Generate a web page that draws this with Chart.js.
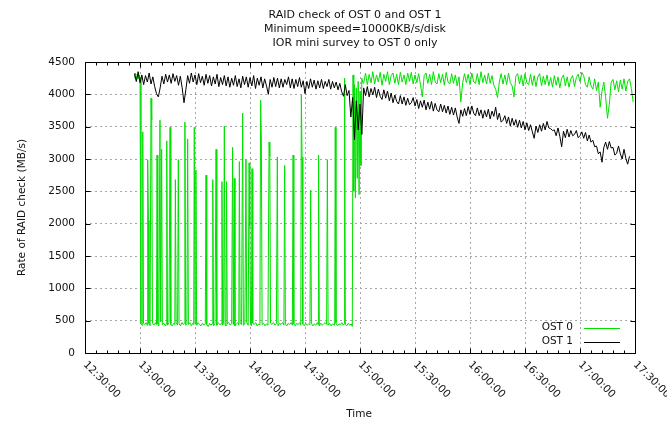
<!DOCTYPE html>
<html>
<head>
<meta charset="utf-8">
<script src="https://cdn.jsdelivr.net/npm/chart.js@4.4.1/dist/chart.umd.min.js"></script>
<style>
  html, body { margin: 0; padding: 0; background: #fff; }
  #chart { display: block; }
</style>
</head>
<body>
<canvas id="chart" width="667" height="421"></canvas>
<script>
const titleLines = ['RAID check of OST 0 and OST 1', 'Minimum speed=10000KB/s/disk', 'IOR mini survey to OST 0 only'];
const xAxisTitle = 'Time';
const yAxisTitle = 'Rate of RAID check (MB/s)';
const seriesNames = ['OST 0', 'OST 1'];

// x ticks in minutes after midnight (12:30 .. 17:30), y ticks in MB/s
const xTickMinutes = [750, 780, 810, 840, 870, 900, 930, 960, 990, 1020, 1050];
const yTicks = [0, 500, 1000, 1500, 2000, 2500, 3000, 3500, 4000, 4500];

// OST 0 while the IOR survey was running (minutes after midnight / MB/s)
const ost0SurveyMinutes = [
  777, 777.5, 778, 778.5, 779, 779.5, 780, 780.5, 781.2, 781.5,
  781.9, 782.6, 783.3, 783.9, 784.2, 784.6, 784.9, 785.5, 786, 786.4,
  786.8, 787.6, 788.4, 789, 789.3, 789.7, 790.3, 790.9, 791.3, 791.8,
  792.2, 793, 793.8, 794.3, 794.6, 795, 795.8, 796.4, 796.8, 797.6,
  798.4, 799, 799.3, 799.7, 800.5, 800.9, 801.3, 802.1, 802.9, 803.6,
  804.2, 804.5, 804.9, 805.6, 806, 806.4, 807.2, 808, 808.8, 809.3,
  809.6, 810, 810.5, 810.9, 811.7, 812.5, 813.3, 814.1, 814.9, 815.6,
  816, 816.4, 817.2, 818, 818.8, 819.3, 819.7, 820.1, 820.9, 821.5,
  821.9, 822.7, 823.5, 824.3, 824.7, 825.1, 825.6, 826, 826.4, 826.9,
  827.2, 827.6, 828.4, 829.2, 830, 830.5, 830.9, 831.4, 831.8, 832.6,
  833.4, 833.9, 834.2, 834.6, 835.4, 836, 836.4, 837.2, 837.8, 838.2,
  839, 839.5, 839.9, 840.3, 840.8, 841.1, 841.5, 842.3, 843.1, 843.9,
  844.7, 845.4, 845.8, 846.2, 846.6, 847.4, 848.2, 849, 849.8, 850.4,
  850.8, 851.2, 852, 852.8, 853.6, 854.4, 854.9, 855.3, 856.1, 856.9,
  857.7, 858.5, 858.9, 859.3, 860.1, 860.9, 861.7, 862.5, 863.1, 863.5,
  863.9, 864.7, 865.5, 866.3, 867.1, 867.7, 868, 868.4, 868.8, 869.6,
  870.4, 871.2, 872, 872.7, 873.1, 873.5, 874.3, 875.1, 875.9, 876.7,
  877.1, 877.4, 877.8, 878.6, 879.4, 880.2, 881, 881.8, 882.2, 882.6,
  883.4, 884.2, 885, 885.8, 886.2, 886.5, 886.9, 887.7, 888.5, 889.3,
  890.1, 890.9, 891.3, 891.6, 892, 892.8, 893.6, 894.4, 895.2, 895.8,
  896.2, 896.6, 897, 897.5, 898, 898.5, 899, 899.5, 900, 900.5,
  901, 901.5
];
const ost0SurveyRates = [
  4250, 4330, 4200, 4310, 4240, 4300, 4260, 450, 430, 3420,
  460, 440, 470, 430, 2990, 2050, 450, 420, 3940, 3600,
  460, 430, 470, 440, 3060, 450, 420, 3600, 480, 3150,
  440, 460, 420, 450, 3280, 430, 470, 3490, 440, 420,
  460, 440, 2680, 470, 430, 2990, 450, 420, 470, 440,
  460, 3570, 430, 450, 3310, 440, 470, 420, 460, 440,
  3490, 450, 2830, 430, 470, 440, 420, 460, 430, 450,
  2750, 440, 410, 460, 430, 450, 2680, 420, 460, 3150,
  430, 470, 440, 450, 2650, 430, 460, 3510, 440, 420,
  2650, 450, 470, 430, 460, 3180, 440, 2700, 420, 450,
  470, 430, 2960, 460, 440, 3710, 430, 450, 2990, 470,
  430, 2940, 1960, 450, 420, 2850, 460, 440, 470, 420,
  450, 430, 3910, 3290, 440, 460, 420, 450, 430, 3260,
  3040, 460, 440, 470, 430, 450, 3030, 420, 460, 440,
  470, 430, 2900, 450, 420, 460, 440, 470, 430, 3060,
  450, 420, 460, 440, 470, 430, 3990, 3030, 450, 420,
  460, 430, 450, 440, 2520, 460, 420, 450, 430, 470,
  440, 3060, 420, 460, 430, 450, 470, 440, 2990, 430,
  460, 420, 450, 440, 430, 3490, 460, 420, 450, 440,
  470, 430, 450, 4250, 440, 420, 460, 430, 450, 410,
  4300, 2500, 4150, 2400, 4100, 2700, 4200, 2450, 4050, 2900,
  4250, 4180
];

// OST 0 after the survey, one reading per minute from 15:02
const ost0AfterStart = 902;
const ost0AfterRates = [
  4170, 4330, 4150, 4310, 4180, 4350, 4160, 4300, 4190, 4340,
  4140, 4310, 4200, 4350, 4150, 4290, 4330, 4170, 4310, 4150,
  4340, 4190, 4300, 4150, 4330, 4200, 4340, 4160, 4300, 4180,
  4320, 4150, 3960, 4290, 4330, 4170, 4310, 4150, 4350, 4190,
  4160, 4320, 4180, 4310, 4140, 4340, 4190, 4160, 4320, 4170,
  4300, 4130, 4270, 3880, 4180, 4320, 4180, 4310, 4150, 4330,
  4190, 4170, 4320, 4150, 4350, 4180, 4300, 4160, 4330, 4170,
  4290, 4140, 4080, 3950, 4190, 4320, 4160, 4300, 4150, 4330,
  4180, 4130, 3960, 4280, 4320, 4160, 4300, 4130, 4320, 4180,
  4150, 4310, 4140, 4290, 4120, 4270, 4320, 4130, 4280, 4150,
  4300, 4130, 4260, 4110, 4290, 4140, 4270, 4100, 4250, 4300,
  4130, 4270, 4110, 4240, 4290, 4120, 4260, 4310, 4190, 4340,
  4290, 4150, 4110, 4270, 4130, 4080, 4240, 4060, 4190, 3800,
  4050, 4190, 3950, 3630, 3850, 4190, 4230, 4070, 4210, 4040,
  4220, 4080, 4240, 4050, 4200, 4240, 4090, 3880
];

// OST 1, one reading per minute from 12:57
const ost1Start = 777;
const ost1Rates = [
  4320, 4200, 4350, 4180, 4300, 4150, 4290, 4190, 4330, 4160,
  4270, 4120, 4010, 3960, 4100, 4280, 4160, 4310, 4190, 4300,
  4170, 4320, 4200, 4290, 4140, 4280, 4100, 3870, 4070, 4290,
  4170, 4330, 4190, 4300, 4150, 4320, 4180, 4280, 4140, 4310,
  4170, 4290, 4130, 4270, 4160, 4310, 4120, 4260, 4150, 4290,
  4130, 4270, 4110, 4250, 4140, 4290, 4120, 4240, 4100, 4280,
  4150, 4270, 4110, 4260, 4130, 4290, 4090, 4250, 4140, 4270,
  4100, 4240, 4130, 4000, 4230, 4110, 4260, 4120, 4250, 4100,
  4240, 4110, 4230, 4150, 4270, 4100, 4240, 4090, 4230, 4120,
  4260, 4110, 4210, 4010, 4200, 4090, 4240, 4110, 4220, 4080,
  4210, 4100, 4230, 4090, 4200, 4120, 4230, 4080, 4200, 4100,
  4190, 4070, 4170, 4040, 3970, 4150, 3980, 4060, 3650, 3950,
  3300, 3900, 3450, 3850, 3380, 4100, 3980, 4120, 3960, 4090,
  3990, 4110, 3950, 4080, 3970, 3920, 4070, 3940, 4050, 3900,
  4020, 3870, 3990, 3890, 3850, 3980, 3850, 3960, 3830, 3940,
  3840, 3870, 3950, 3820, 3920, 3780, 3900, 3800, 3910, 3760,
  3880, 3770, 3890, 3740, 3860, 3760, 3730, 3850, 3730, 3830,
  3710, 3820, 3690, 3800, 3680, 3790, 3650, 3550, 3760, 3660,
  3780, 3670, 3810, 3690, 3820, 3710, 3670, 3790, 3670, 3760,
  3630, 3750, 3650, 3770, 3620, 3740, 3660, 3800, 3610, 3710,
  3570, 3600, 3670, 3550, 3650, 3510, 3630, 3520, 3610, 3490,
  3600, 3480, 3580, 3450, 3560, 3440, 3530, 3420, 3320, 3510,
  3410, 3530, 3430, 3550, 3450, 3580, 3480, 3470, 3440, 3450,
  3360, 3480, 3350, 3190, 3430, 3330, 3460, 3340, 3440, 3360,
  3380, 3440, 3330, 3360, 3420, 3320, 3410, 3280, 3370, 3260,
  3290, 3190, 3200, 3080, 3110, 2950, 3180, 3260, 3150, 3270,
  3170, 3180, 3060, 3090, 3200, 3080, 3000, 3150, 3010, 2920,
  3040
];

const FONT = '"DejaVu Sans", sans-serif';
const GREEN = '#00e000';

function clockLabel(minutes) {
    const h = Math.floor(minutes / 60);
    const m = minutes % 60;
    return h + ':' + String(m).padStart(2, '0') + ':00';
}

const ost0Points = ost0SurveyMinutes.map((t, i) => ({ x: t, y: ost0SurveyRates[i] }))
    .concat(ost0AfterRates.map((v, i) => ({ x: ost0AfterStart + i, y: v })));
const ost1Points = ost1Rates.map((v, i) => ({ x: ost1Start + i, y: v }));

// gnuplot style frame: box, inward ticks, rotated time labels, titles and key
const gnuplotFrame = {
    id: 'gnuplotFrame',
    afterDatasetsDraw(chart) {
        const { ctx, chartArea: a, scales: { x, y } } = chart;
        const left = Math.round(a.left) + 0.5;
        const right = Math.round(a.right) + 0.5;
        const top = Math.round(a.top) + 0.5;
        const bottom = Math.round(a.bottom) + 0.5;

        ctx.save();
        ctx.strokeStyle = '#000';
        ctx.lineWidth = 1;
        ctx.beginPath();
        ctx.rect(left, top, right - left, bottom - top);

        // major and minor ticks on x (bottom + mirrored top)
        for (let m = xTickMinutes[0]; m <= xTickMinutes[xTickMinutes.length - 1]; m += 6) {
            const px = Math.round(x.getPixelForValue(m)) + 0.5;
            const len = (m % 30 === 0) ? 5 : 3;
            ctx.moveTo(px, bottom); ctx.lineTo(px, bottom - len);
            ctx.moveTo(px, top); ctx.lineTo(px, top + len);
        }
        yTicks.forEach(v => {
            const py = Math.round(y.getPixelForValue(v)) + 0.5;
            ctx.moveTo(left, py); ctx.lineTo(left + 5, py);
            ctx.moveTo(right, py); ctx.lineTo(right - 5, py);
        });
        ctx.stroke();

        ctx.fillStyle = '#111';
        ctx.font = '10.5px ' + FONT;

        // y tick labels
        ctx.textAlign = 'right';
        ctx.textBaseline = 'middle';
        yTicks.forEach(v => {
            ctx.fillText(String(v), 75, y.getPixelForValue(v));
        });

        // x tick labels, rotated down to the right
        xTickMinutes.forEach(m => {
            const px = x.getPixelForValue(m);
            ctx.save();
            ctx.translate(px, a.bottom + 10);
            ctx.rotate(Math.PI / 4);
            ctx.textAlign = 'left';
            ctx.textBaseline = 'middle';
            ctx.fillText(clockLabel(m), 0, 0);
            ctx.restore();
        });

        // axis titles
        ctx.textAlign = 'center';
        ctx.fillText(xAxisTitle, 359, 414);
        ctx.save();
        ctx.translate(22, (a.top + a.bottom) / 2);
        ctx.rotate(-Math.PI / 2);
        ctx.fillText(yAxisTitle, 0, 0);
        ctx.restore();

        // title block
        ctx.font = '11px ' + FONT;
        titleLines.forEach((line, i) => {
            ctx.fillText(line, 355, 15 + i * 14);
        });

        // key, bottom right inside the plot
        ctx.font = '10.5px ' + FONT;
        const keyColors = [GREEN, '#000'];
        seriesNames.forEach((name, i) => {
            const ky = 327.5 + i * 14;
            ctx.textAlign = 'right';
            ctx.fillStyle = '#111';
            ctx.fillText(name, 573, ky);
            ctx.strokeStyle = keyColors[i];
            ctx.beginPath();
            ctx.moveTo(584, Math.round(ky) + 0.5);
            ctx.lineTo(620, Math.round(ky) + 0.5);
            ctx.stroke();
        });
        ctx.restore();
    }
};

new Chart(document.getElementById('chart'), {
    type: 'line',
    data: {
        datasets: [
            { label: seriesNames[0], data: ost0Points, borderColor: GREEN, borderWidth: 1, pointRadius: 0, tension: 0, order: 2 },
            { label: seriesNames[1], data: ost1Points, borderColor: '#000', borderWidth: 1, pointRadius: 0, tension: 0, order: 1 }
        ]
    },
    options: {
        responsive: false,
        animation: false,
        devicePixelRatio: 1,
        layout: { padding: { left: 85, right: 32, top: 62, bottom: 68 } },
        plugins: {
            legend: { display: false },
            tooltip: { enabled: false },
            title: { display: false }
        },
        scales: {
            x: {
                type: 'linear',
                min: 750,
                max: 1050,
                ticks: { display: false, stepSize: 30 },
                grid: { color: '#a8a8a8', drawTicks: false },
                border: { display: false, dash: [2, 3] }
            },
            y: {
                min: 0,
                max: 4500,
                ticks: { display: false, stepSize: 500 },
                grid: { color: '#a8a8a8', drawTicks: false },
                border: { display: false, dash: [2, 3] }
            }
        }
    },
    plugins: [gnuplotFrame]
});
</script>
</body>
</html>
